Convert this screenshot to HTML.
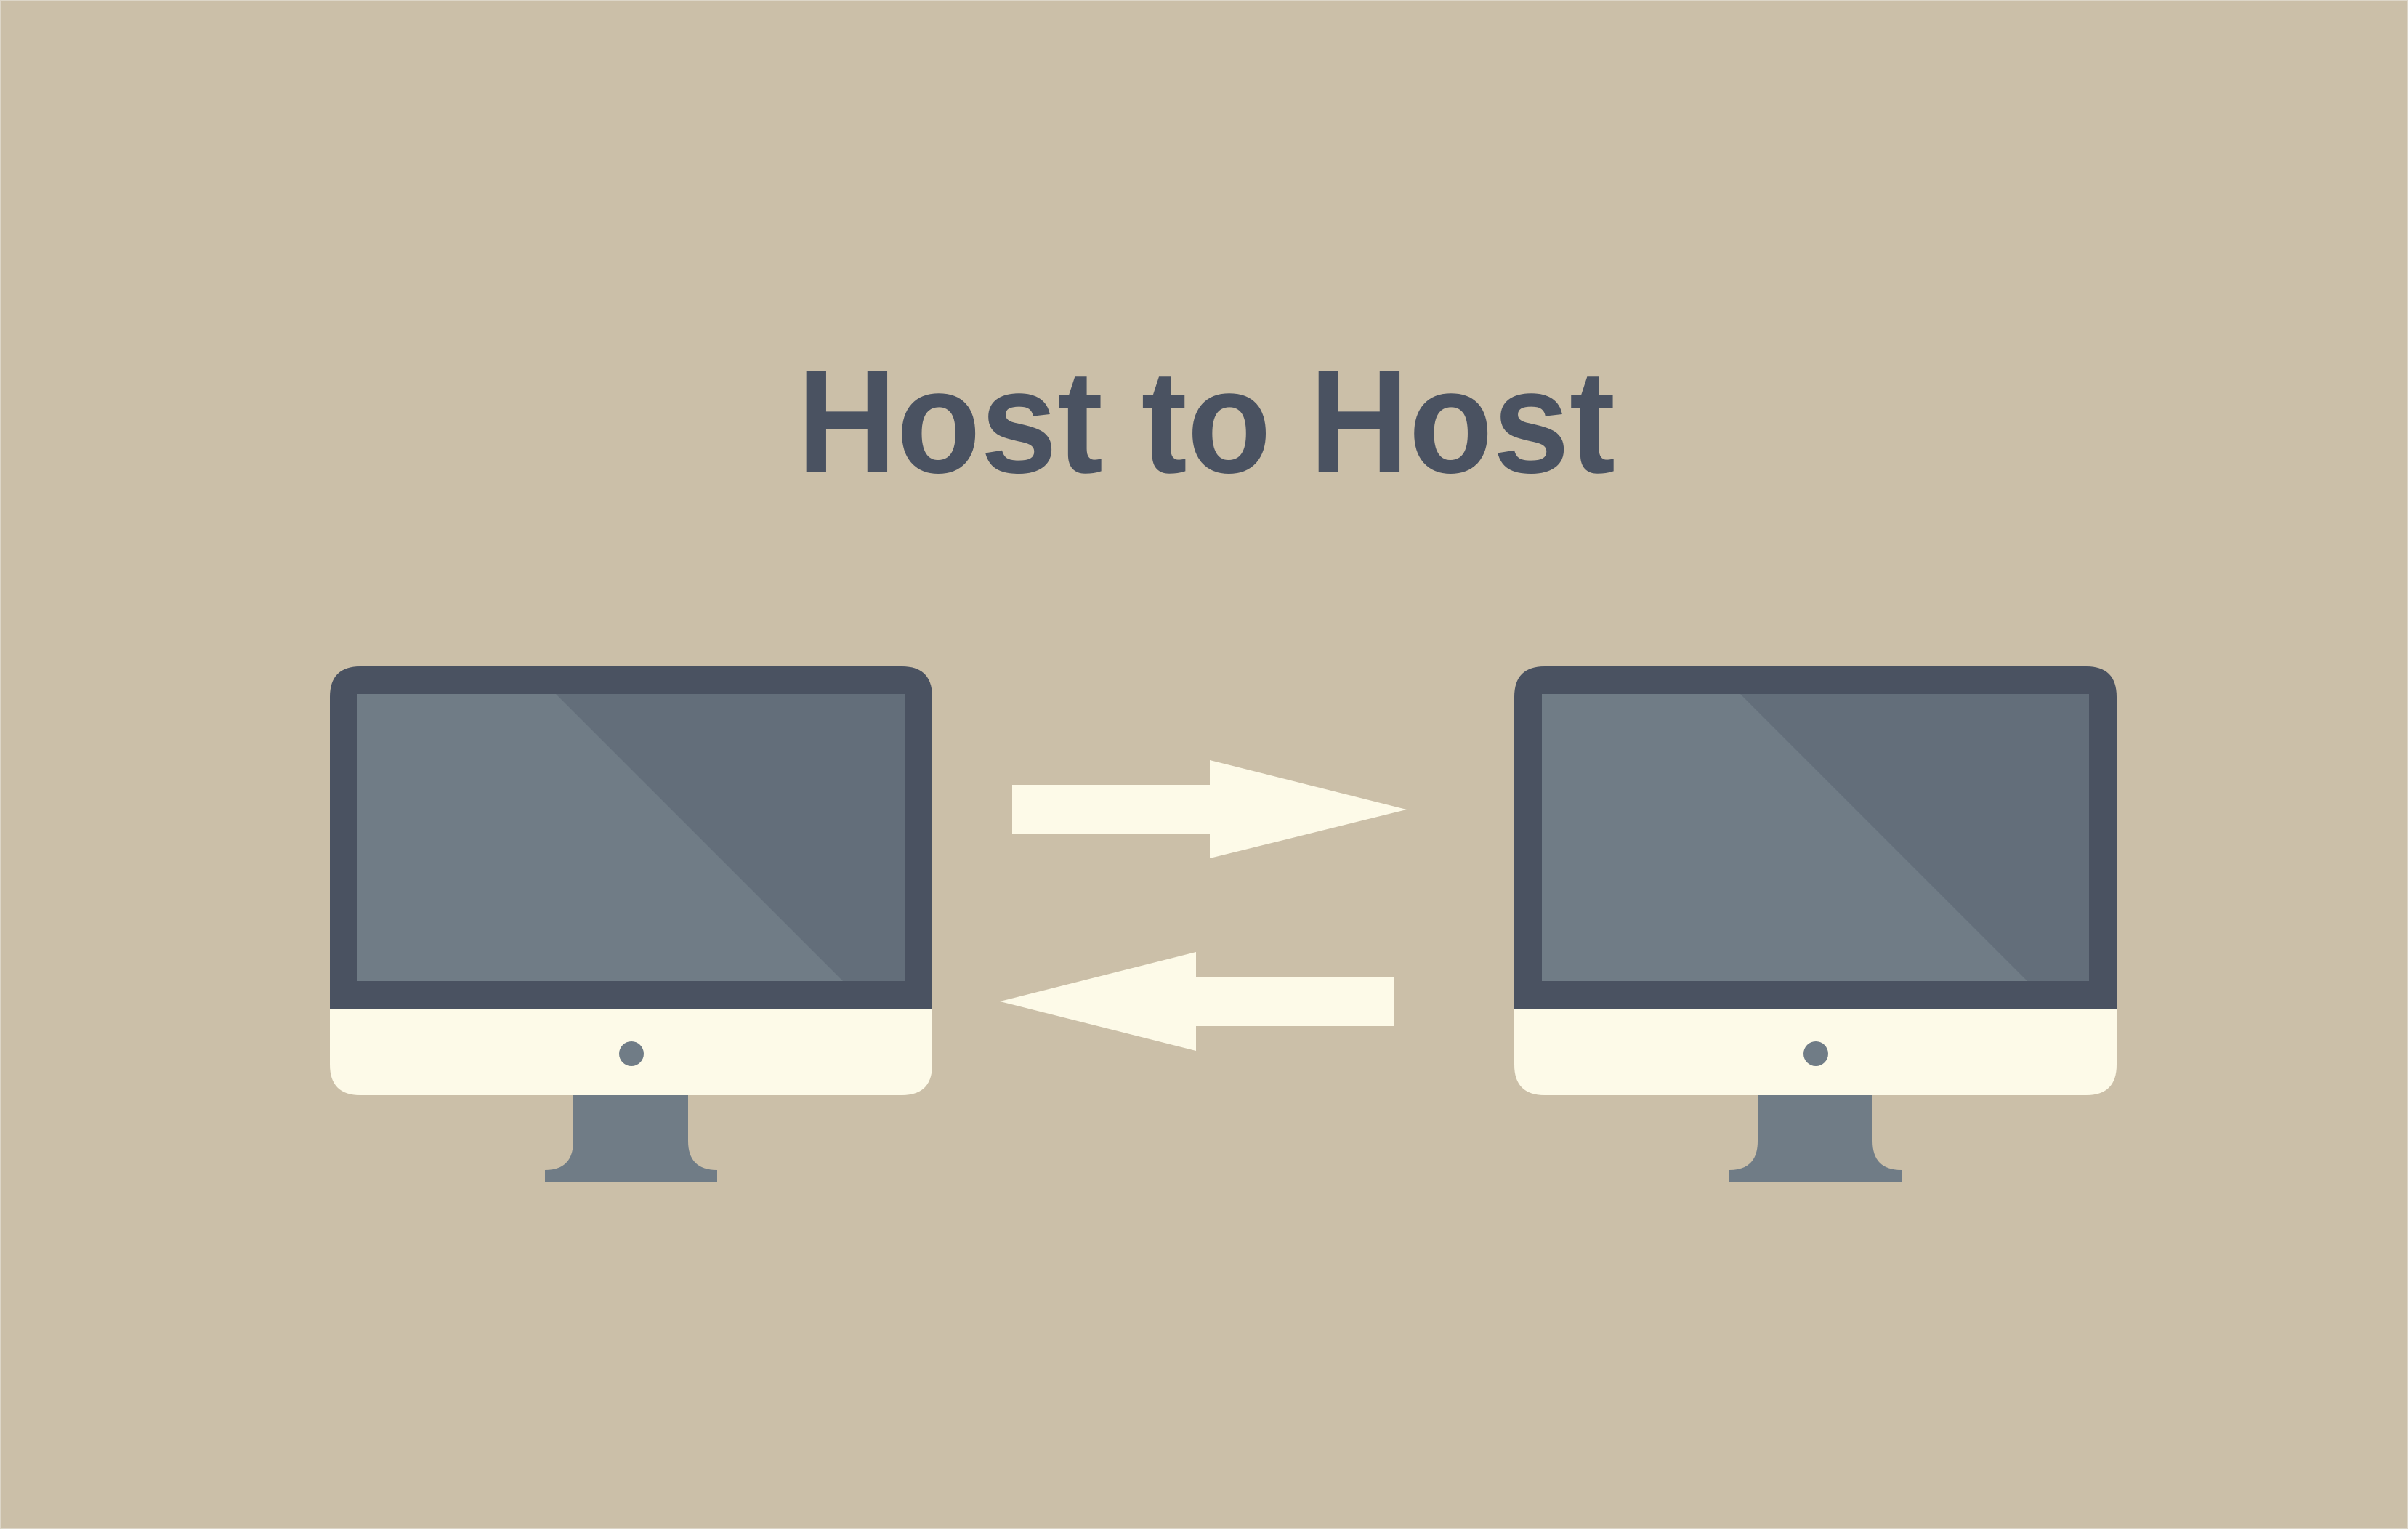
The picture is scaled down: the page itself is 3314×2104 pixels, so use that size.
<!DOCTYPE html>
<html><head><meta charset="utf-8"><style>
html,body{margin:0;padding:0;background:#cbbfa8;}
svg{display:block;}
</style></head><body>
<svg width="3314" height="2104" viewBox="0 0 3314 2104" xmlns="http://www.w3.org/2000/svg">
<rect x="0" y="0" width="3314" height="2104" fill="#cbbfa8"/>
<rect x="0.5" y="0.5" width="3313" height="2103" fill="none" stroke="#ddd6c8" stroke-width="2"/>
<text x="1097" y="650" font-family="Liberation Sans, Arial, sans-serif" font-weight="bold" font-size="202" fill="#4a5261" textLength="1126" lengthAdjust="spacingAndGlyphs">Host to Host</text>
<defs>
<g id="mon">
<path d="M454 1389 V959 Q454 917 496 917 H1241 Q1283 917 1283 959 V1389 Z" fill="#4a5261"/>
<path d="M454 1389 H1283 V1465 Q1283 1507 1241 1507 H496 Q454 1507 454 1465 Z" fill="#fdfae8"/>
<rect x="492" y="955" width="753" height="395" fill="#636e7a"/>
<polygon points="492,955 765,955 1160,1350 492,1350" fill="#707c86"/>
<circle cx="869" cy="1450" r="17" fill="#707c86"/>
<path d="M789 1507 H947 V1570 Q947 1610 987 1610 V1627 H750 V1610 Q789 1610 789 1570 Z" fill="#707c86"/>
</g>
</defs>
<use href="#mon"/>
<use href="#mon" transform="translate(1630,0)"/>
<polygon points="1393,1080 1665,1080 1665,1046 1936,1114 1665,1181 1665,1148 1393,1148" fill="#fdfae8"/>
<polygon points="1919,1344 1646,1344 1646,1310 1376,1378 1646,1446 1646,1412 1919,1412" fill="#fdfae8"/>
</svg>
</body></html>
